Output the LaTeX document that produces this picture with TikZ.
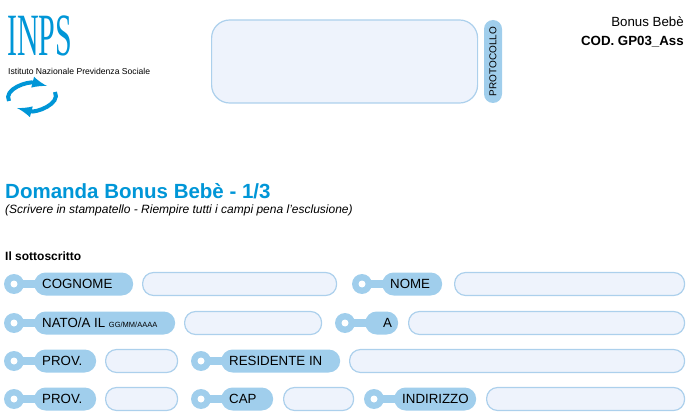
\documentclass[tikz,border=0pt]{standalone}
\usepackage{fontspec}
\setmainfont{Liberation Sans}
\newfontfamily\logofont{Liberation Serif}
\usetikzlibrary{positioning}
\definecolor{tagblue}{RGB}{160,206,236}
\definecolor{fieldfill}{RGB}{238,243,252}
\definecolor{fieldline}{RGB}{172,208,236}
\definecolor{inpsblue}{RGB}{0,150,215}
\tikzset{
  pill/.style={fill=tagblue, rounded corners=11.5pt, minimum height=23pt, inner sep=0pt, anchor=west},
  tagtext/.style={inner sep=0pt, font=\fontsize{13.3}{13}\selectfont, anchor=west},
  field/.style={draw=fieldline, line width=1.2pt, fill=fieldfill, rounded corners=11pt, minimum height=23pt, inner sep=0pt, anchor=west},
  knob/.style={circle, fill=tagblue, minimum size=20pt, inner sep=0pt},
}
% tag: name, knob x, pill right x, y, text
\newcommand\labeltag[5]{%
  \node[knob] (#1k) at (#2,#4) {};
  \fill[tagblue] (#2,#4-4) rectangle (#2+22,#4+4);
  \node[pill, minimum width={(#3-#2-20)*1pt}] (#1p) at (#2+20,#4) {};
  \fill[white] (#1k) circle (3.5pt);
  \node[tagtext] (#1) at (#2+28,#4) {#5};
}
\begin{document}
\begin{tikzpicture}[x=1pt,y=-1pt]
\useasboundingbox (0,0) rectangle (694,417);
% logo
\node[anchor=north west, inner sep=0pt, text=inpsblue, font=\logofont\fontsize{60}{60}\selectfont, xscale=0.5] (inps) at (7,16) {INPS};
\node[anchor=north west, inner sep=0pt, font=\fontsize{8.6}{8.6}\selectfont] (istituto) at (8,68) {Istituto Nazionale Previdenza Sociale};
\coordinate (swa) at (9,101);
\coordinate (swb) at (47,86);
\coordinate (swc) at (55,92);
\coordinate (swd) at (17,108);
\draw[inpsblue, line width=4pt, -latex] (swa) .. controls (3,89) and (28,81) .. (swb);
\draw[inpsblue, line width=4pt, -latex] (swc) .. controls (61,104) and (36,113) .. (swd);
% protocol
\node[field, minimum width=266pt, minimum height=83pt, rounded corners=18pt] (protocollo) at (211,61.5) {};
\node[pill, anchor=center, minimum width=83pt, minimum height=18pt, rounded corners=9pt, rotate=90, font=\fontsize{10}{10}\selectfont] (protlabel) at (493,61.5) {PROTOCOLLO};
% header right
\node[anchor=north east, inner sep=0pt, font=\fontsize{13.3}{13}\selectfont] (bonus) at (684,17) {Bonus Bebè};
\node[anchor=north east, inner sep=0pt, font=\bfseries\fontsize{13.3}{13}\selectfont] (cod) at (684,36) {COD. GP03\_Ass};
% title
\node[anchor=west, inner sep=0pt, text=inpsblue, font=\bfseries\fontsize{20.5}{20}\selectfont] (titolo) at (5,191) {Domanda Bonus Bebè - 1/3};
\node[anchor=west, inner sep=0pt, font=\itshape\fontsize{12}{12}\selectfont] (note) at (5,210) {(Scrivere in stampatello - Riempire tutti i campi pena l'esclusione)};
\node[anchor=west, inner sep=0pt, font=\bfseries\fontsize{12}{12}\selectfont] (sotto) at (5,256) {Il sottoscritto};
% row 1
\labeltag{cognome}{14}{133}{284}{COGNOME}
\node[field, minimum width=194pt] (fcognome) at (142,284) {};
\labeltag{nome}{362}{442}{284}{NOME}
\node[field, minimum width=230pt] (fnome) at (454,284) {};
% row 2
\labeltag{nato}{14}{175}{323}{NATO/A IL {\fontsize{7.5}{7}\selectfont GG/MM/AAAA}}
\node[field, minimum width=137pt] (fnato) at (184,323) {};
\labeltag{a}{345}{398}{323}{\hspace{10pt}A}
\node[field, minimum width=276pt] (fa) at (408,323) {};
% row 3
\labeltag{prov}{14}{96}{361}{PROV.}
\node[field, minimum width=72pt] (fprov) at (105,361) {};
\labeltag{residente}{201}{340}{361}{RESIDENTE IN}
\node[field, minimum width=335pt] (fresidente) at (349,361) {};
% row 4
\labeltag{provb}{14}{96}{399}{PROV.}
\node[field, minimum width=72pt] (fprovb) at (105,399) {};
\labeltag{cap}{201}{273}{399}{CAP}
\node[field, minimum width=70pt] (fcap) at (283,399) {};
\labeltag{indirizzo}{374}{476}{399}{INDIRIZZO}
\node[field, minimum width=198pt] (findirizzo) at (486,399) {};
\end{tikzpicture}
\end{document}
